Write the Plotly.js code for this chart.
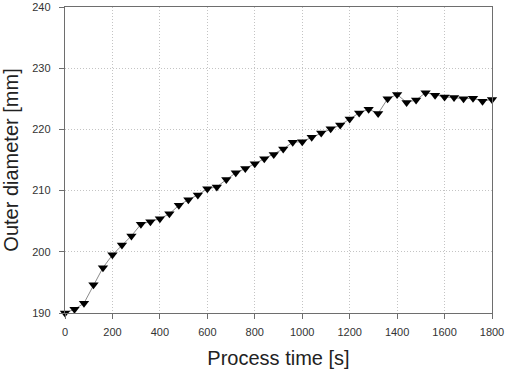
<!DOCTYPE html>
<html>
<head>
<meta charset="utf-8">
<script src="https://cdn.plot.ly/plotly-3.0.1.min.js"></script>
<style>html,body{margin:0;padding:0;background:#fff;}#chart{width:508px;height:377px;}</style>
</head>
<body>
<div id="chart"></div>
<script>
var timeS = [0,40,80,120,160,200,240,280,320,360,400,440,480,520,560,600,640,680,720,760,800,840,880,920,960,1000,1040,1080,1120,1160,1200,1240,1280,1320,1360,1400,1440,1480,1520,1560,1600,1640,1680,1720,1760,1800];
var diameterMm = [190.0,190.6,191.6,194.6,197.4,199.5,201.1,202.6,204.5,204.9,205.4,206.2,207.6,208.5,209.3,210.3,210.6,211.8,212.9,213.6,214.4,215.2,215.9,216.8,217.9,218.0,218.7,219.4,220.1,220.7,221.7,222.7,223.3,222.6,225.0,225.7,224.4,224.8,226.0,225.6,225.3,225.2,225.0,225.1,224.6,224.9];
var xTicks = [0,200,400,600,800,1000,1200,1400,1600,1800];
var yTicks = [190,200,210,220,230,240];

var trace = {
  x: timeS, y: diameterMm, type: 'scatter', mode: 'lines+markers',
  line: {color: '#8a8a8a', width: 1},
  marker: {symbol: 'triangle-down', size: 9, color: '#000'},
  cliponaxis: false
};
var axisCommon = {
  showline: true, linecolor: '#6e6e6e', linewidth: 1.3, mirror: true,
  ticks: 'outside', ticklen: 5, tickcolor: '#6e6e6e',
  showgrid: true, gridcolor: '#c4c4c4', griddash: '1px,2px', gridwidth: 1,
  zeroline: false, tickfont: {family: 'Liberation Sans, Arial, sans-serif', size: 11, color: '#333'}
};
var layout = {
  width: 508, height: 377,
  margin: {l: 65, r: 16, t: 7, b: 64},
  paper_bgcolor: '#fff', plot_bgcolor: '#fff',
  showlegend: false,
  xaxis: Object.assign({}, axisCommon, {
    range: [0, 1800], tickvals: xTicks, ticktext: xTicks.map(String), ticklabelstandoff: 3,
    title: {text: 'Process time [s]', font: {family: 'Liberation Sans, Arial, sans-serif', size: 20, color: '#222'}, standoff: 14}
  }),
  yaxis: Object.assign({}, axisCommon, {
    range: [190, 240], tickvals: yTicks, ticktext: yTicks.map(String), ticklabelstandoff: 6,
    title: {text: 'Outer diameter [mm]', font: {family: 'Liberation Sans, Arial, sans-serif', size: 20, color: '#222'}, standoff: 10}
  })
};
Plotly.newPlot('chart', [trace], layout, {staticPlot: true, displayModeBar: false});
</script>
</body>
</html>
